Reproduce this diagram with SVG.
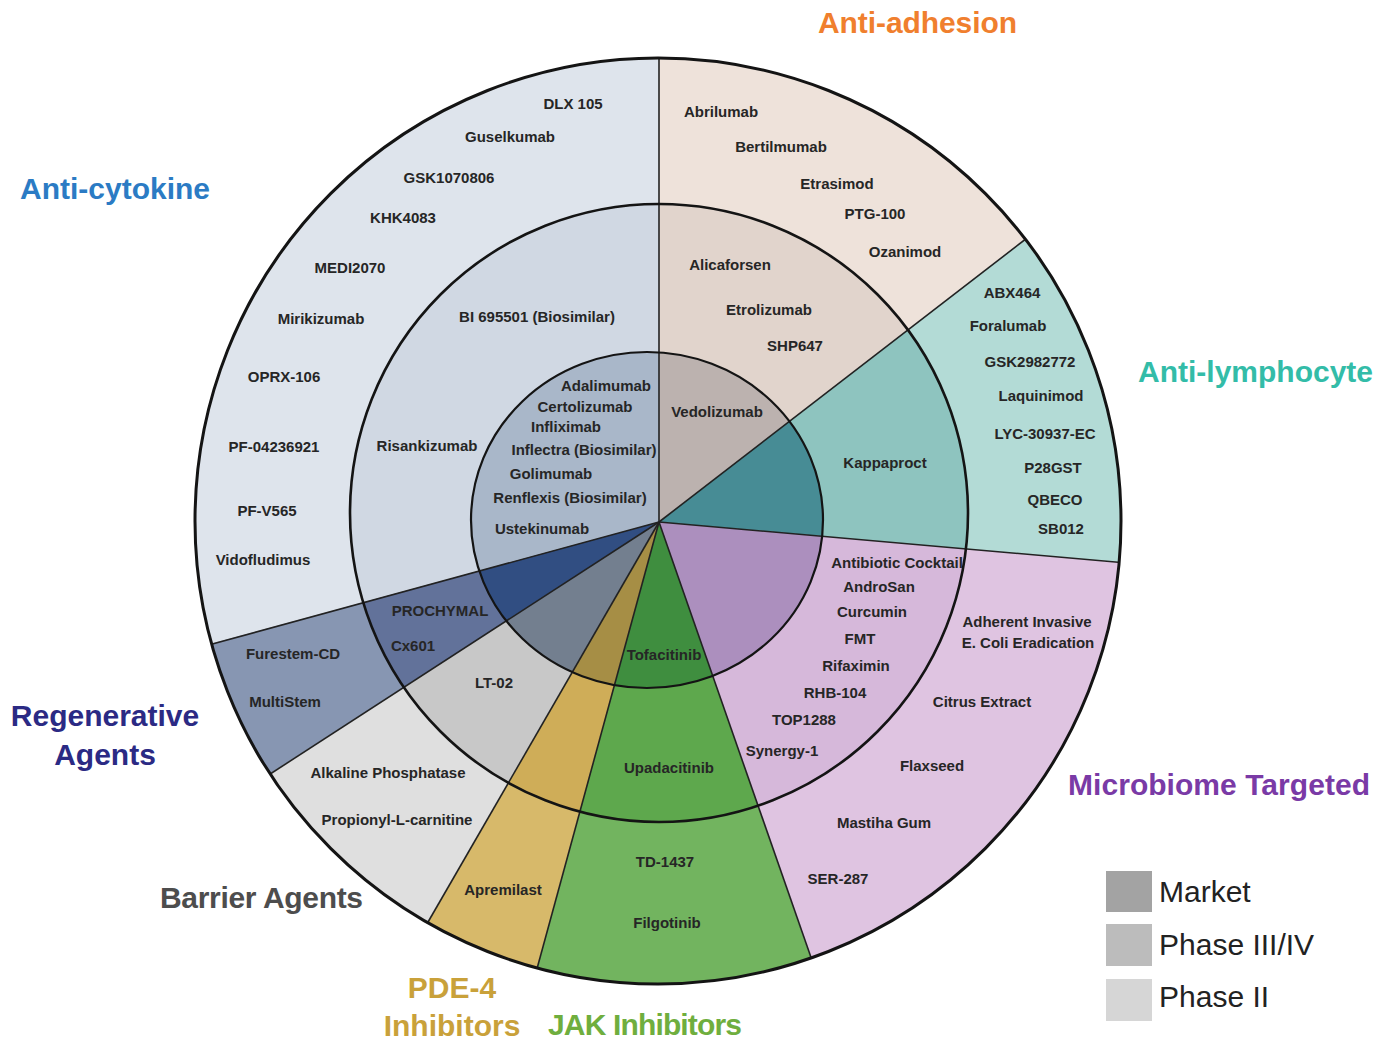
<svg xmlns="http://www.w3.org/2000/svg" width="1380" height="1043" viewBox="0 0 1380 1043">
<style>
.lbl{font-family:"Liberation Sans",Arial,sans-serif;font-weight:bold;font-size:15px;fill:#262626;text-anchor:middle}
.ttl{font-family:"Liberation Sans",Arial,sans-serif;font-weight:bold;font-size:30px}
.leg{font-family:"Liberation Sans",Arial,sans-serif;font-size:30px;fill:#222}
.ring{fill:none;stroke:#141414}
.div{stroke:#222;stroke-width:1.6;fill:none}
</style>
<defs>
<clipPath id="co"><circle cx="658" cy="521" r="463"/></clipPath>
<clipPath id="cm"><circle cx="659" cy="513" r="309"/></clipPath>
<clipPath id="ci"><ellipse cx="647" cy="520" rx="176" ry="168"/></clipPath>
<polygon id="w-adh" points="659,522 659,-378 1371.1,-28.4"/>
<polygon id="w-lym" points="659,522 1371.1,-28.4 1555.6,600.4"/>
<polygon id="w-mic" points="659,522 1555.6,600.4 1369.2,1074.9 955,1372"/>
<polygon id="w-jak" points="659,522 955,1372 421.5,1390.1"/>
<polygon id="w-pde" points="659,522 421.5,1390.1 209,1301.4"/>
<polygon id="w-bar" points="659,522 209,1301.4 -96.6,1010.9"/>
<polygon id="w-reg" points="659,522 -96.6,1010.9 -209.5,758"/>
<polygon id="w-cyt" points="659,522 -209.5,758 -56,-24.7 659,-378"/>
</defs>
<rect width="1380" height="1043" fill="#fff"/>

<g id="anti-cytokine">
<use href="#w-cyt" fill="#dee4ec" clip-path="url(#co)"/>
<use href="#w-cyt" fill="#d0d8e3" clip-path="url(#cm)"/>
<use href="#w-cyt" fill="#a9b7c9" clip-path="url(#ci)"/>
<text class="ttl" x="20" y="199" fill="#2b7bc4" textLength="190">Anti-cytokine</text>
<text class="lbl" x="573" y="109">DLX 105</text>
<text class="lbl" x="510" y="142">Guselkumab</text>
<text class="lbl" x="449" y="183">GSK1070806</text>
<text class="lbl" x="403" y="223">KHK4083</text>
<text class="lbl" x="350" y="273">MEDI2070</text>
<text class="lbl" x="321" y="324">Mirikizumab</text>
<text class="lbl" x="284" y="382">OPRX-106</text>
<text class="lbl" x="274" y="452">PF-04236921</text>
<text class="lbl" x="267" y="516">PF-V565</text>
<text class="lbl" x="263" y="565">Vidofludimus</text>
<text class="lbl" x="537" y="322">BI 695501 (Biosimilar)</text>
<text class="lbl" x="427" y="451">Risankizumab</text>
<text class="lbl" x="606" y="391">Adalimumab</text>
<text class="lbl" x="585" y="412">Certolizumab</text>
<text class="lbl" x="566" y="432">Infliximab</text>
<text class="lbl" x="584" y="455">Inflectra (Biosimilar)</text>
<text class="lbl" x="551" y="479">Golimumab</text>
<text class="lbl" x="570" y="503">Renflexis (Biosimilar)</text>
<text class="lbl" x="542" y="534">Ustekinumab</text>
</g>

<g id="anti-adhesion">
<use href="#w-adh" fill="#eee2da" clip-path="url(#co)"/>
<use href="#w-adh" fill="#e1d4cc" clip-path="url(#cm)"/>
<use href="#w-adh" fill="#bcb2af" clip-path="url(#ci)"/>
<text class="ttl" x="818" y="33" fill="#f07f2e" textLength="199">Anti-adhesion</text>
<text class="lbl" x="721" y="117">Abrilumab</text>
<text class="lbl" x="781" y="152">Bertilmumab</text>
<text class="lbl" x="837" y="189">Etrasimod</text>
<text class="lbl" x="875" y="219">PTG-100</text>
<text class="lbl" x="905" y="257">Ozanimod</text>
<text class="lbl" x="730" y="270">Alicaforsen</text>
<text class="lbl" x="769" y="315">Etrolizumab</text>
<text class="lbl" x="795" y="351">SHP647</text>
<text class="lbl" x="717" y="417">Vedolizumab</text>
</g>

<g id="anti-lymphocyte">
<use href="#w-lym" fill="#b3dbd6" clip-path="url(#co)"/>
<use href="#w-lym" fill="#8ec4bf" clip-path="url(#cm)"/>
<use href="#w-lym" fill="#478c95" clip-path="url(#ci)"/>
<text class="ttl" x="1138" y="382" fill="#33bca8" textLength="235">Anti-lymphocyte</text>
<text class="lbl" x="1012" y="298">ABX464</text>
<text class="lbl" x="1008" y="331">Foralumab</text>
<text class="lbl" x="1030" y="367">GSK2982772</text>
<text class="lbl" x="1041" y="401">Laquinimod</text>
<text class="lbl" x="1045" y="439">LYC-30937-EC</text>
<text class="lbl" x="1053" y="473">P28GST</text>
<text class="lbl" x="1055" y="505">QBECO</text>
<text class="lbl" x="1061" y="534">SB012</text>
<text class="lbl" x="885" y="468">Kappaproct</text>
</g>

<g id="microbiome-targeted">
<use href="#w-mic" fill="#dfc4e1" clip-path="url(#co)"/>
<use href="#w-mic" fill="#d6b8da" clip-path="url(#cm)"/>
<use href="#w-mic" fill="#ac8fbe" clip-path="url(#ci)"/>
<text class="ttl" x="1068" y="795" fill="#7a3aa6" textLength="302">Microbiome Targeted</text>
<text class="lbl" x="897" y="568">Antibiotic Cocktail</text>
<text class="lbl" x="879" y="592">AndroSan</text>
<text class="lbl" x="872" y="617">Curcumin</text>
<text class="lbl" x="860" y="644">FMT</text>
<text class="lbl" x="856" y="671">Rifaximin</text>
<text class="lbl" x="835" y="698">RHB-104</text>
<text class="lbl" x="804" y="725">TOP1288</text>
<text class="lbl" x="782" y="756">Synergy-1</text>
<text class="lbl" x="1027" y="627">Adherent Invasive</text>
<text class="lbl" x="1028" y="648">E. Coli Eradication</text>
<text class="lbl" x="982" y="707">Citrus Extract</text>
<text class="lbl" x="932" y="771">Flaxseed</text>
<text class="lbl" x="884" y="828">Mastiha Gum</text>
<text class="lbl" x="838" y="884">SER-287</text>
</g>

<g id="jak-inhibitors">
<use href="#w-jak" fill="#72b45f" clip-path="url(#co)"/>
<use href="#w-jak" fill="#5ea84d" clip-path="url(#cm)"/>
<use href="#w-jak" fill="#3f8e3f" clip-path="url(#ci)"/>
<text class="ttl" x="548" y="1035" fill="#6fae3e" textLength="194">JAK Inhibitors</text>
<text class="lbl" x="664" y="660">Tofacitinib</text>
<text class="lbl" x="669" y="773">Upadacitinib</text>
<text class="lbl" x="665" y="867">TD-1437</text>
<text class="lbl" x="667" y="928">Filgotinib</text>
</g>

<g id="pde4-inhibitors">
<use href="#w-pde" fill="#d7b96a" clip-path="url(#co)"/>
<use href="#w-pde" fill="#cfad58" clip-path="url(#cm)"/>
<use href="#w-pde" fill="#a68e45" clip-path="url(#ci)"/>
<text class="ttl" x="452" y="998" fill="#c9a13a" text-anchor="middle">PDE-4</text>
<text class="ttl" x="452" y="1036" fill="#c9a13a" text-anchor="middle">Inhibitors</text>
<text class="lbl" x="503" y="895">Apremilast</text>
</g>

<g id="barrier-agents">
<use href="#w-bar" fill="#dfdfdf" clip-path="url(#co)"/>
<use href="#w-bar" fill="#c8c8c8" clip-path="url(#cm)"/>
<use href="#w-bar" fill="#737f8f" clip-path="url(#ci)"/>
<text class="ttl" x="160" y="908" fill="#4d4d4d" textLength="203">Barrier Agents</text>
<text class="lbl" x="494" y="688">LT-02</text>
<text class="lbl" x="388" y="778">Alkaline Phosphatase</text>
<text class="lbl" x="397" y="825">Propionyl-L-carnitine</text>
</g>

<g id="regenerative-agents">
<use href="#w-reg" fill="#8796b2" clip-path="url(#co)"/>
<use href="#w-reg" fill="#62729a" clip-path="url(#cm)"/>
<use href="#w-reg" fill="#314e82" clip-path="url(#ci)"/>
<text class="ttl" x="105" y="726" fill="#2b2a84" text-anchor="middle">Regenerative</text>
<text class="ttl" x="105" y="765" fill="#2b2a84" text-anchor="middle">Agents</text>
<text class="lbl" x="440" y="616">PROCHYMAL</text>
<text class="lbl" x="413" y="651">Cx601</text>
<text class="lbl" x="293" y="659">Furestem-CD</text>
<text class="lbl" x="285" y="707">MultiStem</text>
</g>

<g id="connectors" clip-path="url(#co)">
<line class="div" x1="659" y1="522" x2="659" y2="50" stroke-width="2.2"/>
<line class="div" x1="659" y1="522" x2="1031" y2="235"/>
<line class="div" x1="659" y1="522" x2="1127" y2="563"/>
<line class="div" x1="659" y1="522" x2="814" y2="966"/>
<line class="div" x1="659" y1="522" x2="535" y2="976"/>
<line class="div" x1="659" y1="522" x2="424" y2="929"/>
<line class="div" x1="659" y1="522" x2="264" y2="778"/>
<line class="div" x1="659" y1="522" x2="205" y2="646"/>
</g>

<g id="rings">
<circle class="ring" cx="658" cy="521" r="463" stroke-width="3"/>
<circle class="ring" cx="659" cy="513" r="309" stroke-width="2.6"/>
<ellipse class="ring" cx="647" cy="520" rx="176" ry="168" stroke-width="2.2"/>
</g>

<g id="legend">
<rect x="1106" y="871" width="46" height="41" fill="#a3a3a3"/>
<rect x="1106" y="924" width="46" height="42" fill="#bcbcbc"/>
<rect x="1106" y="979" width="46" height="42" fill="#d6d6d6"/>
<text class="leg" x="1159" y="902">Market</text>
<text class="leg" x="1159" y="955">Phase III/IV</text>
<text class="leg" x="1159" y="1007">Phase II</text>
</g>
</svg>
